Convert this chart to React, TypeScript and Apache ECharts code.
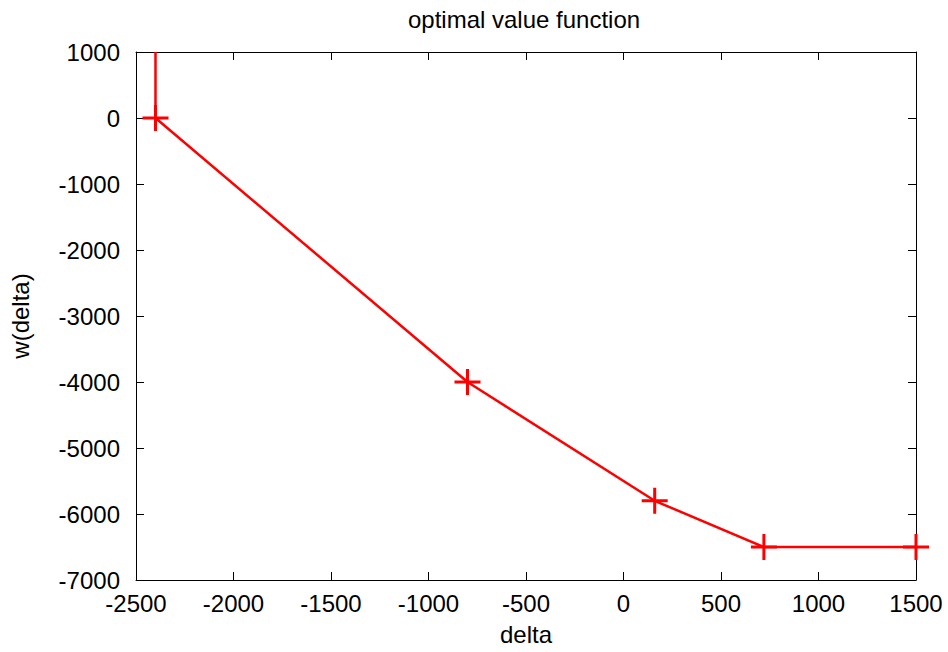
import React, { useEffect, useRef } from "react";
import * as echarts from "echarts";

const deltaValues = [-2400, -2400, -800, 160, 720, 1500];
const wValues = [1000, 0, -4000, -5800, -6500, -6500];
const showMarker = [false, true, true, true, true, true];

const xMin = -2500;
const xMax = 1500;
const xStep = 500;
const yMin = -7000;
const yMax = 1000;
const yStep = 1000;

const titleText = "optimal value function";
const xName = "delta";
const yName = "w(delta)";

const FONT = '"Liberation Sans", Arial, Helvetica, sans-serif';
const FS = 24;
const PLUS = "path://M-1.5,-13 L1.5,-13 L1.5,13 L-1.5,13 Z M-13,-1.5 L13,-1.5 L13,1.5 L-13,1.5 Z";

export default function App() {
  const ref = useRef<HTMLDivElement>(null);
  useEffect(() => {
    if (!ref.current) return;
    const chart = echarts.init(ref.current, null, { renderer: "svg" });
    const data = deltaValues.map((x, i) => ({
      value: [x, wValues[i]],
      symbol: showMarker[i] ? PLUS : "none",
    }));
    const axisCommon = {
      type: "value" as const,
      splitLine: { show: false },
      axisLine: { show: true, onZero: false, lineStyle: { color: "#000", width: 1 } },
      axisTick: { show: true, inside: true, length: 8, lineStyle: { color: "#000", width: 1 } },
    };
    const fmt = (v: number) => String(v);
    chart.setOption({
      animation: false,
      backgroundColor: "#fff",
      textStyle: { fontFamily: FONT },
      title: {
        text: titleText,
        left: 519,
        textAlign: "center",
        top: 2,
        textStyle: { fontFamily: FONT, fontSize: FS, fontWeight: "normal", color: "#000" },
      },
      grid: { left: 134, right: 32, top: 52, bottom: 72, containLabel: false },
      xAxis: [
        {
          ...axisCommon,
          position: "bottom",
          min: xMin,
          max: xMax,
          interval: xStep,
          name: xName,
          nameLocation: "middle",
          nameGap: 42,
          nameTextStyle: { fontFamily: FONT, fontSize: FS, color: "#000" },
          axisLabel: { margin: 11, fontFamily: FONT, fontSize: FS, color: "#000", formatter: fmt },
        },
        {
          ...axisCommon,
          position: "top",
          min: xMin,
          max: xMax,
          interval: xStep,
          axisLabel: { show: false },
        },
      ],
      yAxis: [
        {
          ...axisCommon,
          position: "left",
          min: yMin,
          max: yMax,
          interval: yStep,
          name: yName,
          nameLocation: "middle",
          nameGap: 104,
          nameRotate: 90,
          nameTextStyle: { fontFamily: FONT, fontSize: FS, color: "#000" },
          axisLabel: { margin: 16, fontFamily: FONT, fontSize: FS, color: "#000", formatter: fmt },
        },
        {
          ...axisCommon,
          position: "right",
          min: yMin,
          max: yMax,
          interval: yStep,
          axisLabel: { show: false },
        },
      ],
      series: [
        {
          type: "line",
          xAxisIndex: 0,
          yAxisIndex: 0,
          data,
          symbolSize: 26,
          showAllSymbol: true,
          clip: false,
          lineStyle: { color: "#ff0000", width: 2.5 },
          itemStyle: { color: "#ff0000" },
        },
      ],
    });
    return () => chart.dispose();
  }, []);
  return (
    <div
      ref={ref}
      style={{ position: "fixed", left: 0, top: 0, width: 948, height: 652, background: "#fff" }}
    />
  );
}
